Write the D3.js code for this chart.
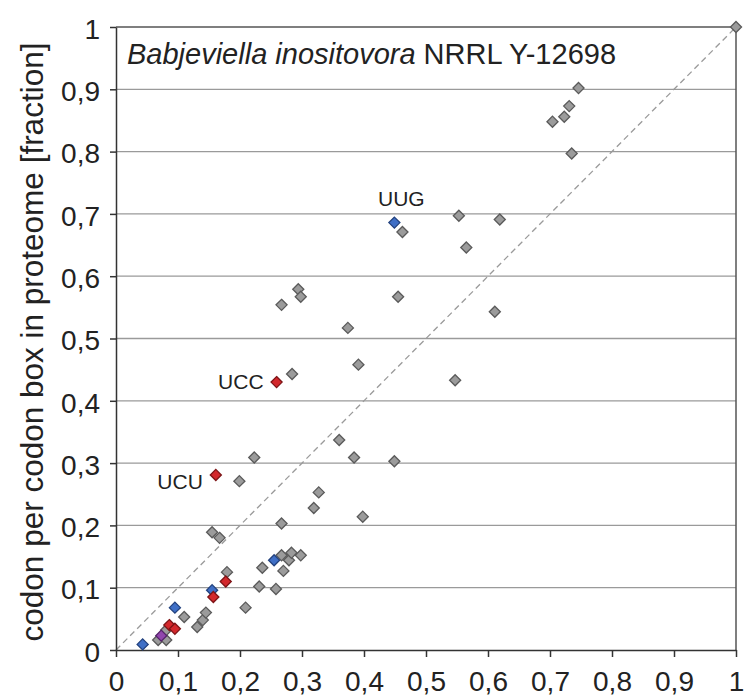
<!DOCTYPE html>
<html lang="en">
<head>
<meta charset="utf-8">
<title>Codon usage scatter</title>
<style>
  body { margin: 0; background: #fff; }
  svg text { font-family: "Liberation Sans", Arial, sans-serif; fill: #222; }
  .grid line { stroke: #9a9a9a; stroke-width: 1.3px; }
  .diag { stroke: #9a9a9a; stroke-width: 1.3px; stroke-dasharray: 6px 4px; fill: none; }
  .frame { stroke: #555; stroke-width: 1.5px; fill: none; }
  .axis path, .axis line { stroke: #333; stroke-width: 1.5px; }
  .pt { stroke-width: 1.3px; }
</style>
</head>
<body>
<svg width="755" height="698"></svg>
<script src="https://d3js.org/d3.v7.min.js"></script>
<script>

// other codons (grey)
var greyX = [0.068, 0.081, 0.081, 0.110, 0.131, 0.140, 0.145, 0.179, 0.155, 0.167,
             0.209, 0.231, 0.236, 0.258, 0.267, 0.279, 0.283, 0.298, 0.270, 0.267,
             0.319, 0.327, 0.199, 0.223, 0.360, 0.384, 0.449, 0.284, 0.391, 0.398,
             0.267, 0.294, 0.298, 0.374, 0.455, 0.462, 0.553, 0.619, 0.565, 0.611,
             0.547, 0.704, 0.723, 0.731, 0.746, 0.735, 1.000];
var greyY = [0.016, 0.016, 0.032, 0.053, 0.037, 0.048, 0.060, 0.125, 0.189, 0.180,
             0.068, 0.102, 0.132, 0.098, 0.152, 0.144, 0.156, 0.152, 0.127, 0.203,
             0.228, 0.253, 0.271, 0.309, 0.337, 0.309, 0.303, 0.443, 0.458, 0.214,
             0.554, 0.579, 0.567, 0.517, 0.567, 0.671, 0.697, 0.691, 0.646, 0.543,
             0.433, 0.848, 0.856, 0.873, 0.902, 0.797, 1.000];

var blueX = [0.043, 0.095, 0.155, 0.255, 0.449];
var blueY = [0.009, 0.068, 0.096, 0.144, 0.686];

var redX = [0.086, 0.095, 0.157, 0.177, 0.161, 0.259];
var redY = [0.040, 0.034, 0.085, 0.110, 0.281, 0.430];

var purpleX = [0.073];
var purpleY = [0.023];

var labelNames = ["UUG", "UCC", "UCU"];
var labelX = [0.449, 0.259, 0.161];
var labelY = [0.686, 0.430, 0.281];

var ticks = d3.range(0, 11).map(function(i) { return i / 10; });
var title1 = "Babjeviella inositovora";
var title2 = " NRRL Y-12698";
var yTitle = "codon per codon box in proteome [fraction]";

var svg = d3.select("svg");
var padL = 116, padR = 736, padT = 27, padB = 650;

var x = d3.scaleLinear().domain([0, 1]).range([padL, padR]);
var y = d3.scaleLinear().domain([0, 1]).range([padB, padT]);

var fmt = function(d) { return d === 0 ? "0" : d === 1 ? "1" : d3.format(".1f")(d).replace(".", ","); };

// horizontal gridlines
svg.append("g").attr("class", "grid")
   .selectAll("line")
   .data(ticks.slice(1, 10))
   .enter().append("line")
   .attr("x1", padL).attr("x2", padR)
   .attr("y1", function(d) { return y(d); })
   .attr("y2", function(d) { return y(d); });

// plot frame (top and right)
svg.append("path").attr("class", "frame")
   .attr("d", "M" + x(0) + "," + y(1) + "H" + x(1) + "V" + y(0));

// 1:1 line
svg.append("line").attr("class", "diag")
   .attr("x1", x(0)).attr("y1", y(0))
   .attr("x2", x(1)).attr("y2", y(1));

var xAxis = d3.axisBottom(x).tickValues(ticks).tickFormat(fmt).tickSizeInner(7).tickSizeOuter(0).tickPadding(14);
var yAxis = d3.axisLeft(y).tickValues(ticks).tickFormat(fmt).tickSizeInner(6).tickSizeOuter(0).tickPadding(10);

var gx = svg.append("g").attr("class", "axis")
   .attr("transform", "translate(0," + padB + ")")
   .call(xAxis);
gx.selectAll("text").style("font-size", "28px").attr("fill", "#222");

var gy = svg.append("g").attr("class", "axis")
   .attr("transform", "translate(" + padL + ",0)")
   .call(yAxis);
gy.selectAll("text").style("font-size", "28px").attr("fill", "#222").attr("dy", "0.4em");

// axis title
svg.append("text")
   .attr("transform", "translate(43,342) rotate(-90)")
   .style("text-anchor", "middle")
   .style("font-size", "31.5px")
   .text(yTitle);

// species title
var t = svg.append("text").attr("x", 127).attr("y", 64).style("font-size", "29px");
t.append("tspan").style("font-style", "italic").text(title1);
t.append("tspan").text(title2);

// points
var diamond = d3.symbol().type(d3.symbolDiamond2).size(78);

function drawSeries(xs, ys, fill, stroke) {
    svg.append("g").selectAll("path")
       .data(xs.map(function(v, i) { return [v, ys[i]]; }))
       .enter().append("path")
       .attr("class", "pt")
       .attr("d", diamond)
       .attr("fill", fill)
       .attr("stroke", stroke)
       .attr("transform", function(d) { return "translate(" + x(d[0]) + "," + y(d[1]) + ")"; });
}

drawSeries(greyX, greyY, "#9b9b9b", "#5a5a5a");
drawSeries(blueX, blueY, "#3f6fc6", "#23427e");
drawSeries(redX, redY, "#d3282c", "#7d1416");
drawSeries(purpleX, purpleY, "#9146ad", "#55236a");

// codon labels
var lab = svg.append("g").style("font-size", "21px");
labelNames.forEach(function(name, i) {
    var px = x(labelX[i]), py = y(labelY[i]);
    var txt = lab.append("text").text(name);
    if (name === "UUG") {
        txt.attr("x", px + 7).attr("y", py - 17).style("text-anchor", "middle");
    } else {
        txt.attr("x", px - 13).attr("y", py + (name === "UCU" ? 14 : 7)).style("text-anchor", "end");
    }
});

</script>
</body>
</html>
